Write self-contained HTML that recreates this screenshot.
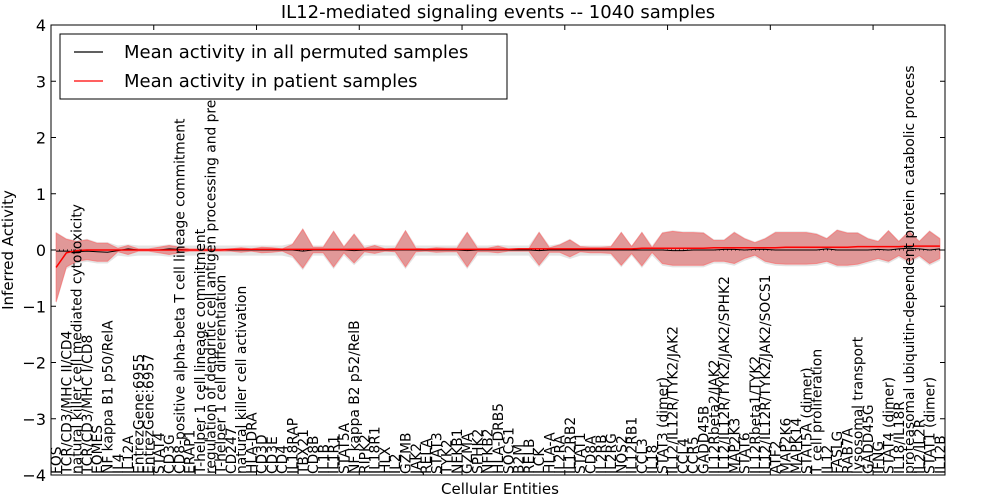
<!DOCTYPE html>
<html><head><meta charset="utf-8"><style>
body{margin:0;background:#fff}
svg{display:block;font-family:"DejaVu Sans","Liberation Sans",sans-serif}
</style></head><body>
<svg id="chart" width="1000" height="500" viewBox="0 0 1000 500" xmlns="http://www.w3.org/2000/svg">
<text x="498" y="18" font-size="18" text-anchor="middle">IL12-mediated signaling events -- 1040 samples</text>
<g id="plot"></g>
<text x="500" y="494" font-size="15" text-anchor="middle">Cellular Entities</text>
<text transform="translate(13,250) rotate(-90)" font-size="15" text-anchor="middle">Inferred Activity</text>
</svg>
<script>
const labels=["FOS","TCR/CD3/MHC II/CD4","natural killer cell mediated cytotoxicity","TCR/CD3/MHC I/CD8","EOMES","NF kappa B1 p50/RelA","IL4","IL12A","EntrezGene:6955","EntrezGene:6957","STAT4","CD3G","CD8-positive alpha-beta T cell lineage commitment","ERAP1","T-helper 1 cell lineage commitment","regulation of dendritic cell antigen processing and pre","T-helper 1 cell differentiation","CD247","natural killer cell activation","HLA-DRA","CD3D","CD3E","CD4","IL18RAP","TBX21","CD8B","IL1B","IL1R1","STAT5A","NF kappa B2 p52/RelB","RIPK2","IL18R1","HLX","IL2","GZMB","JAK2","RELA","STAT3","TYK2","NFKB1","GZMA","SPHK2","NFKB2","HLA-DRB5","SOCS1","B2M","RELB","LCK","HLA-A","IL2RA","IL12RB2","STAT1","CD8A","IL2RB","IL2RG","NOS2","IL12RB1","CCL3","IL18","STAT3 (dimer)","IL12/IL12R/TYK2/JAK2","CCL4","CCR5","GADD45B","IL12Rbeta2/JAK2","IL12/IL12R/TYK2/JAK2/SPHK2","MAP2K3","STAT6","IL12Rbeta1/TYK2","IL12/IL12R/TYK2/JAK2/SOCS1","ATF2","MAP2K6","MAPK14","STAT5A (dimer)","T cell proliferation","IL12","FASLG","RAB7A","lysosomal transport","GADD45G","IFNG","STAT4 (dimer)","IL18/IL18R","proteasomal ubiquitin-dependent protein catabolic process","IL2/IL2R","STAT1 (dimer)","IL12B"];
const redMean=[-0.31,-0.05,-0.01,0,0,0,0,0,0,0,0,0,0,0,0,0,0,0.01,0.01,0.01,0.01,0.01,0.01,0.01,0.01,0.01,0.01,0.01,0.01,0.01,0.01,0.01,0.01,0.01,0.01,0.01,0.01,0.01,0.01,0.01,0.01,0.01,0.01,0.01,0.01,0.02,0.02,0.02,0.02,0.02,0.02,0.02,0.02,0.02,0.02,0.02,0.02,0.03,0.03,0.03,0.03,0.03,0.03,0.03,0.04,0.04,0.04,0.04,0.04,0.04,0.04,0.05,0.05,0.05,0.05,0.05,0.05,0.05,0.06,0.06,0.06,0.06,0.06,0.07,0.07,0.07,0.07];
const redUpper=[0.3,0.19,0.15,0.18,0.12,0.12,0.03,0.08,0.02,0.02,0.05,0.08,0.05,0.02,0.02,0.02,0.02,0.02,0.04,0.02,0.05,0.04,0.02,0.1,0.37,0.05,0.05,0.33,0.05,0.28,0.03,0.08,0.02,0.03,0.34,0.03,0.02,0.04,0.03,0.03,0.31,0.03,0.03,0.07,0.02,0.02,0.02,0.31,0.04,0.09,0.18,0.06,0.05,0.05,0.06,0.31,0.06,0.31,0.04,0.3,0.33,0.31,0.31,0.3,0.17,0.17,0.31,0.2,0.13,0.2,0.31,0.31,0.31,0.31,0.28,0.2,0.35,0.3,0.3,0.2,0.15,0.34,0.15,0.33,0.15,0.33,0.2];
const redLower=[-0.92,-0.3,-0.2,-0.17,-0.2,-0.2,-0.03,-0.08,-0.02,-0.02,-0.05,-0.08,-0.05,-0.02,-0.02,-0.02,-0.02,-0.02,-0.04,-0.02,-0.05,-0.04,-0.02,-0.1,-0.32,-0.05,-0.05,-0.3,-0.05,-0.23,-0.03,-0.06,-0.02,-0.03,-0.3,-0.03,-0.02,-0.04,-0.03,-0.03,-0.3,-0.03,-0.03,-0.05,-0.02,-0.02,-0.02,-0.27,-0.04,-0.04,-0.12,-0.03,-0.05,-0.05,-0.06,-0.27,-0.06,-0.28,-0.04,-0.24,-0.27,-0.27,-0.27,-0.27,-0.2,-0.2,-0.24,-0.15,-0.09,-0.2,-0.24,-0.25,-0.25,-0.25,-0.24,-0.2,-0.27,-0.27,-0.25,-0.2,-0.15,-0.2,-0.1,-0.2,-0.1,-0.24,-0.15];
const blackMean=[-0.02,-0.02,-0.03,-0.02,-0.03,-0.04,-0.01,0.02,0,0,0,0.02,0.01,0,0,0,0,0,0,0,0,0,0,0,-0.02,0,0,0,0,-0.01,0,0,0,0,0,0,0,0,0,0,-0.01,0,0,0,0,0,0,-0.01,0,0,0,0,0,0,0,0,0,0,0,0,-0.01,-0.01,0,0,0,0.01,0.01,0,0.01,0.01,0,0,0,0,0,0.02,0,0,0,0,0.01,0,0.02,0.03,0.02,0,0.02];
const yTicks=[-4,-3,-2,-1,0,1,2,3,4];
const xTicks=[0,10,20,30,40,50,60,70,80];

const L=51,R=945,T=25,B=475,N=87;
const xs=i=>L+(i+0.5)*(R-L)/N;
const ys=v=>T+(4-v)*(B-T)/8;
const NS="http://www.w3.org/2000/svg";
const g=document.getElementById('plot');
function mk(tag,attrs,parent){const e=document.createElementNS(NS,tag);for(const k in attrs)e.setAttribute(k,attrs[k]);(parent||g).appendChild(e);return e;}
function band(up,lo){let d="M";up.forEach((v,i)=>{d+=xs(i).toFixed(1)+","+ys(v).toFixed(1)+" L";});for(let i=lo.length-1;i>=0;i--){d+=xs(i).toFixed(1)+","+ys(lo[i]).toFixed(1)+(i?" L":"");}return d+"Z";}
function line(arr){return arr.map((v,i)=>(i?"L":"M")+xs(i).toFixed(1)+","+ys(v).toFixed(1)).join(" ");}

const greyUp=redUpper.map(v=>Math.max(v,0.06)+0.02);
const greyLo=redLower.map(v=>Math.min(v,-0.06)-0.04);
const gb=mk('path',{d:band(greyUp,greyLo),fill:'#d8d8d8','fill-opacity':0.7,stroke:'none'});


const rb=mk('path',{d:band(redUpper,redLower),fill:'#e06666','fill-opacity':0.6,stroke:'#ff6060','stroke-opacity':0.6,'stroke-width':1});


const zl=mk('line',{x1:L,x2:R,y1:ys(0),y2:ys(0),stroke:'#000','stroke-width':1,'stroke-dasharray':'1,3'});


const bl=mk('path',{d:line(blackMean),fill:'none',stroke:'#000','stroke-width':1});


const rl=mk('path',{d:line(redMean),fill:'none',stroke:'#ff0000','stroke-width':1.5});



const fr=mk('rect',{x:L,y:T,width:R-L,height:B-T,fill:'none',stroke:'#000','stroke-width':1});



yTicks.forEach(v=>{
  const y=ys(v);
  mk('line',{x1:L,x2:L+5,y1:y,y2:y,stroke:'#000'});
  mk('line',{x1:R-5,x2:R,y1:y,y2:y,stroke:'#000'});
  const t=mk('text',{x:L-5,y:y+6,'font-size':16,'text-anchor':'end'});
  
  
  t.textContent=v<0?"\u2212"+(-v):String(v);
});
xTicks.forEach(v=>{
  const x=L+v*(R-L)/N;
  mk('line',{x1:x,x2:x,y1:T,y2:T+5,stroke:'#000'});
  mk('line',{x1:x,x2:x,y1:B-5,y2:B,stroke:'#000'});
});
labels.forEach((s,i)=>{
  const x=xs(i)+5;
  const t=mk('text',{transform:`translate(${x.toFixed(1)},${B-1}) rotate(-90)`,'font-size':13.8});
  
  
  t.textContent=s;
});

const lg=mk('g',{});


mk('rect',{x:60,y:34,width:447,height:65,fill:'#fff',stroke:'#000','stroke-width':1},lg);
mk('line',{x1:74,x2:103,y1:52,y2:52,stroke:'#000','stroke-width':1.3},lg);
mk('line',{x1:74,x2:103,y1:81,y2:81,stroke:'#ff0000','stroke-width':1.3},lg);
const t1=mk('text',{x:124,y:58,'font-size':18},lg);


t1.textContent="Mean activity in all permuted samples";
const t2=mk('text',{x:124,y:87,'font-size':18},lg);


t2.textContent="Mean activity in patient samples";
</script>
</body></html>
